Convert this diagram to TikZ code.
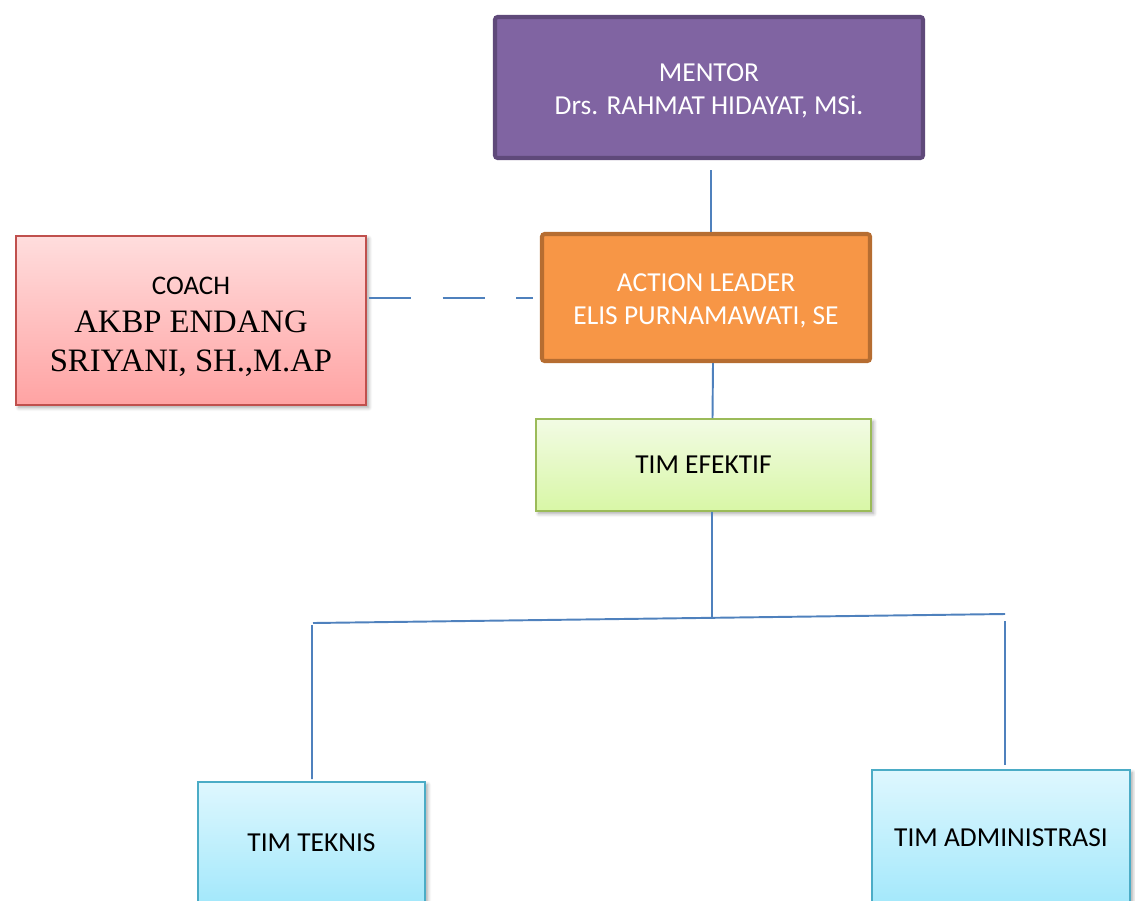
\documentclass[tikz,border=0pt]{standalone}
\usepackage{fontspec}
\setmainfont{Carlito}
\newfontfamily\tnr{Liberation Serif}
\usetikzlibrary{calc,shadows.blur}
\definecolor{mentorfill}{HTML}{8064A2}
\definecolor{mentordraw}{HTML}{5F497A}
\definecolor{actfill}{HTML}{F79646}
\definecolor{actdraw}{HTML}{B66D31}
\definecolor{coachtop}{HTML}{FFDDDD}
\definecolor{coachbot}{HTML}{FFA3A3}
\definecolor{coachdraw}{HTML}{C0504D}
\definecolor{efktop}{HTML}{F2FBE4}
\definecolor{efkbot}{HTML}{D8F7A6}
\definecolor{efkdraw}{HTML}{9BBB59}
\definecolor{tealtop}{HTML}{DEF7FE}
\definecolor{tealbot}{HTML}{A3E8FB}
\definecolor{tealdraw}{HTML}{4BACC6}
\definecolor{linkcol}{HTML}{4F81BD}
\def\U{0.02cm}
\begin{document}
\begin{tikzpicture}[x=0.02cm,y=-0.02cm,
  box/.style={rectangle, inner sep=0pt, align=center, font=\fontsize{15.6}{18.5}\selectfont},
  softshadow/.style={blur shadow={shadow xshift=1.5pt, shadow yshift=-1.5pt, shadow blur steps=6, shadow blur radius=2pt, shadow opacity=35}},
  mentorbox/.style={box, fill=mentorfill, draw=mentordraw, line width=2.3pt, rounded corners=1.5pt, text=white},
  actbox/.style={box, fill=actfill, draw=actdraw, line width=2.3pt, rounded corners=1.5pt, text=white},
  coachbox/.style={box, softshadow, top color=coachtop, bottom color=coachbot, draw=coachdraw, line width=0.9pt},
  efkbox/.style={box, softshadow, top color=efktop, bottom color=efkbot, draw=efkdraw, line width=1pt},
  tealbox/.style={box, softshadow, top color=tealtop, bottom color=tealbot, draw=tealdraw, line width=1pt},
  link/.style={draw=linkcol, line width=1.1pt},
  dashlink/.style={link, line width=1.2pt, dash pattern=on 24pt off 18pt}
]
\useasboundingbox (0,0) rectangle (1135,900);
\clip (0,0) rectangle (1135,900);

\node[mentorbox, minimum width=428*\U, minimum height=141*\U] (mentor) at (709,87.5)
  {\rule{0pt}{14pt}MENTOR\\Drs. RAHMAT HIDAYAT, MSi.};
\node[actbox, minimum width=328*\U, minimum height=127*\U] (action) at (706,297.5)
  {\rule{0pt}{14pt}ACTION LEADER\\ELIS PURNAMAWATI, SE};
\node[coachbox, minimum width=350*\U, minimum height=169*\U, font=\tnr\fontsize{18.6}{22.5}\selectfont] (coach) at (191,320.5)
  {\rule{0pt}{17pt}{\fontsize{15.3}{17}\selectfont\rmfamily COACH}\\[-1pt]AKBP ENDANG\\SRIYANI, SH.,M.AP};
\node[efkbox, minimum width=335*\U, minimum height=92*\U] (efektif) at (703.5,465) {TIM EFEKTIF};
\node[tealbox, minimum width=227*\U, minimum height=122*\U] (teknis) at (311.5,843) {TIM TEKNIS};
\node[tealbox, minimum width=258*\U, minimum height=136*\U] (admin) at (1001,838) {TIM ADMINISTRASI};

\coordinate (jc) at (712,617);
\coordinate (hl) at (313,623);
\coordinate (hr) at (1005,614);

\draw[link] ($(mentor.south)+(2,10)$) -- ($(action.north)+(5,0)$);
\draw[link] ($(action.south)+(7,0)$) -- ($(efektif.north)+(9,0)$);
\draw[link] ($(efektif.south)+(8.5,0)$) -- (jc);
\draw[link] (hl) -- (hr);
\draw[link] ($(hl)+(-1,2)$) -- ($(teknis.north)+(0.5,-2)$);
\draw[link] ($(hr)+(0,7)$) -- ($(admin.north)+(4,-4)$);
\draw[dashlink] ($(coach.east |- action.west)+(2,0.5)$) -- ($(action.west)+(-7,0.5)$);
\end{tikzpicture}
\end{document}
